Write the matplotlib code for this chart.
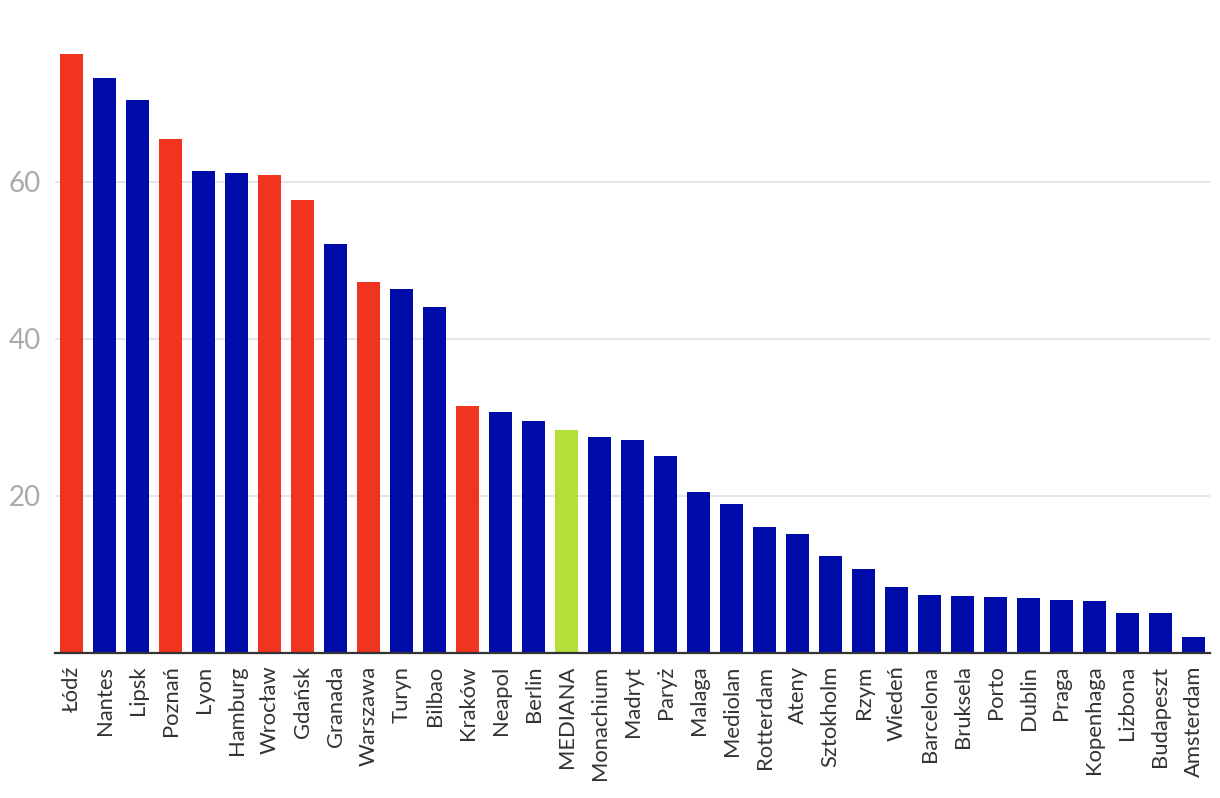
import matplotlib
matplotlib.use("Agg")
import matplotlib.pyplot as plt

# === データ ===
cities = [
    "Łódź", "Nantes", "Lipsk", "Poznań", "Lyon", "Hamburg", "Wrocław", "Gdańsk",
    "Granada", "Warszawa", "Turyn", "Bilbao", "Kraków", "Neapol", "Berlin",
    "MEDIANA", "Monachium", "Madryt", "Paryż", "Malaga", "Mediolan", "Rotterdam",
    "Ateny", "Sztokholm", "Rzym", "Wiedeń", "Barcelona", "Bruksela", "Porto",
    "Dublin", "Praga", "Kopenhaga", "Lizbona", "Budapeszt", "Amsterdam",
]
values = [
    76.3, 73.2, 70.4, 65.5, 61.4, 61.1, 60.9, 57.7,
    52.1, 47.3, 46.4, 44.1, 31.5, 30.7, 29.6,
    28.4, 27.5, 27.1, 25.1, 20.5, 19.0, 16.1,
    15.2, 12.4, 10.7, 8.4, 7.4, 7.3, 7.1,
    7.0, 6.8, 6.6, 5.1, 5.1, 2.0,
]
# グループ: pl = polskie miasta, med = mediana, other = reszta
groups = [
    "pl", "other", "other", "pl", "other", "other", "pl", "pl",
    "other", "pl", "other", "other", "pl", "other", "other",
    "med", "other", "other", "other", "other", "other", "other",
    "other", "other", "other", "other", "other", "other", "other",
    "other", "other", "other", "other", "other", "other",
]
yticks = [20, 40, 60]

palette = {"pl": "#f1341e", "other": "#000caa", "med": "#b3df38"}

plt.rcParams["font.family"] = ["Lato", "DejaVu Sans"]

fig = plt.figure(figsize=(12.2, 7.98), dpi=100)
ax = fig.add_axes([0.0451, 0.1817, 0.9467, 0.787])

x = range(len(cities))
ax.bar(x, values, width=0.72, color=[palette[g] for g in groups], zorder=3)

ax.set_xlim(-0.5, len(cities) - 0.5)
ax.set_ylim(0, 80)
ax.set_yticks(yticks)
ax.set_xticks(list(x))
ax.set_xticklabels(cities, rotation=90, ha="center", va="top",
                   fontsize=15.8, color="#333333")
ax.tick_params(axis="x", length=0, pad=9)
ax.tick_params(axis="y", length=0, pad=10, labelsize=20, labelcolor="#aaaaaa")

ax.grid(axis="y", color="#e3e3e3", linewidth=1.3, zorder=0)
for side in ["top", "right", "left"]:
    ax.spines[side].set_visible(False)
ax.spines["bottom"].set_color("#333333")
ax.spines["bottom"].set_linewidth(1.6)
ax.spines["bottom"].set_zorder(4)

fig.savefig("out.png", dpi=100, facecolor="white")
